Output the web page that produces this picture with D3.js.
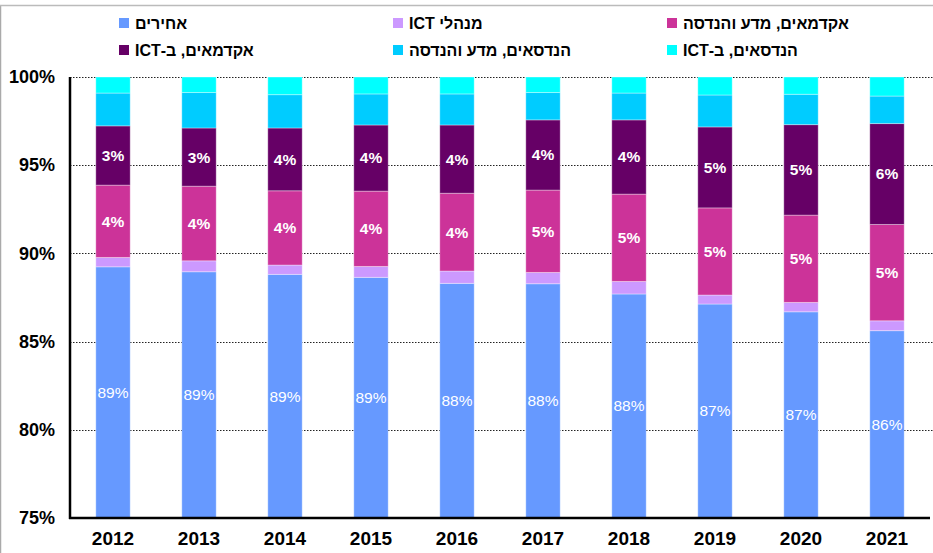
<!DOCTYPE html>
<html><head><meta charset="utf-8">
<script src="https://cdn.jsdelivr.net/npm/d3@7"></script>
<style>body{margin:0;background:#fff}svg{display:block}text{font-family:"Liberation Sans",Arial,sans-serif}</style>
</head><body>
<svg id="c" width="933" height="553"></svg>
<script>
const years = ["2012","2013","2014","2015","2016","2017","2018","2019","2020","2021"];
const seriesNames = ["אחירים","מנהלי ICT","אקדמאים, מדע והנדסה","אקדמאים, ב-ICT","הנדסאים, מדע והנדסה","הנדסאים, ב-ICT"];
const seriesColors = ["#6699FF","#CC99FF","#CC3399","#660066","#00CCFF","#00FFFF"];
const others      = [89.24,88.96,88.81,88.64,88.30,88.28,87.70,87.13,86.69,85.62];
const ictManagers = [0.53,0.62,0.53,0.62,0.70,0.64,0.71,0.51,0.53,0.56];
const acadSE      = [4.10,4.23,4.21,4.27,4.41,4.67,4.95,4.94,4.95,5.46];
const acadICT     = [3.36,3.30,3.56,3.75,3.87,3.98,4.21,4.59,5.13,5.72];
const engSE       = [1.86,2.01,1.89,1.76,1.76,1.55,1.52,1.81,1.72,1.56];
const engICT      = [0.91,0.88,1.00,0.96,0.96,0.88,0.91,1.02,0.98,1.08];
const yTicks = [75,80,85,90,95,100];
const labeledSeries = [0,2,3];

const seriesVals = [others,ictManagers,acadSE,acadICT,engSE,engICT];
const table = years.map((y,i)=>{const o={year:y};seriesVals.forEach((s,k)=>o["s"+k]=s[i]);return o;});
const keys = seriesVals.map((_,k)=>"s"+k);
const stacked = d3.stack().keys(keys)(table);

const svg = d3.select("#c");
const L=70,R=930,T=77,B=518;
const x = d3.scaleBand().domain(years).range([L,R]).paddingInner(0.6).paddingOuter(0.3);
const y = d3.scaleLinear().domain([75,100]).range([B,T]);

// frame
svg.append("line").attr("x1",0.5).attr("x2",0.5).attr("y1",5).attr("y2",553).attr("stroke","#aaa").attr("stroke-width",1.5);
svg.append("line").attr("x1",0).attr("x2",933).attr("y1",5.5).attr("y2",5.5).attr("stroke","#bbb").attr("stroke-width",1.5);

// gridlines
svg.append("g").selectAll("line").data(yTicks.filter(t=>t>75)).join("line")
  .attr("x1",L).attr("x2",933).attr("y1",d=>Math.round(y(d))+0.5).attr("y2",d=>Math.round(y(d))+0.5)
  .attr("stroke","#222").attr("stroke-width",1).attr("stroke-dasharray","1.5,1.5");

// bars
const g = svg.append("g");
stacked.forEach((layer,k)=>{
  g.append("g").selectAll("rect").data(layer).join("rect")
    .attr("x",d=>x(d.data.year)).attr("width",x.bandwidth())
    .attr("y",d=>y(Math.min(100,d[1])))
    .attr("height",d=>y(Math.max(75,d[0]))-y(Math.min(100,d[1])))
    .attr("fill",seriesColors[k]).attr("stroke","#fff").attr("stroke-opacity",0.35).attr("stroke-width",1);
});

// labels
labeledSeries.forEach(k=>{
  svg.append("g").selectAll("text").data(stacked[k]).join("text")
    .attr("x",d=>x(d.data.year)+x.bandwidth()/2)
    .attr("y",d=>(y(Math.max(75,d[0]))+y(d[1]))/2)
    .attr("dy","0.35em").attr("text-anchor","middle")
    .attr("fill","#fff").attr("font-size",15.5).attr("font-weight",k===0?"normal":"bold")
    .text(d=>Math.round(d[1]-d[0])+"%");
});

// axes
const ya = svg.append("g").attr("transform",`translate(${L},0)`)
  .call(d3.axisLeft(y).tickValues(yTicks).tickFormat(d=>d+"%").tickSize(0).tickPadding(15));
ya.select(".domain").remove();
ya.selectAll("text").attr("font-size",18).attr("font-weight","bold").attr("fill","#000").attr("font-family","Liberation Sans, Arial, sans-serif");
const xa = svg.append("g").attr("transform",`translate(0,${B})`)
  .call(d3.axisBottom(x).tickSize(0).tickPadding(14));
xa.select(".domain").remove();
xa.selectAll("text").attr("font-size",19).attr("font-weight","bold").attr("fill","#000").attr("font-family","Liberation Sans, Arial, sans-serif");
svg.append("line").attr("x1",L).attr("x2",L).attr("y1",T).attr("y2",B+1).attr("stroke","#000").attr("stroke-width",2.5);
svg.append("line").attr("x1",L-1).attr("x2",R).attr("y1",B).attr("y2",B).attr("stroke","#000").attr("stroke-width",2.5);

// legend
const legX=[119,393,667], legY=[23,50];
const lg = svg.append("g");
seriesNames.forEach((n,k)=>{
  const cx=legX[k%3], cy=legY[Math.floor(k/3)];
  lg.append("rect").attr("x",cx).attr("y",cy-5).attr("width",10).attr("height",10).attr("fill",seriesColors[k]);
  const t = lg.append("text").attr("y",cy).attr("dy","0.35em").attr("font-size",16).attr("font-weight","bold")
    .attr("direction","rtl").attr("text-anchor","start").text(n);
  const w = t.node().getComputedTextLength();
  t.attr("x",cx+16+w);
});
</script>
</body></html>
